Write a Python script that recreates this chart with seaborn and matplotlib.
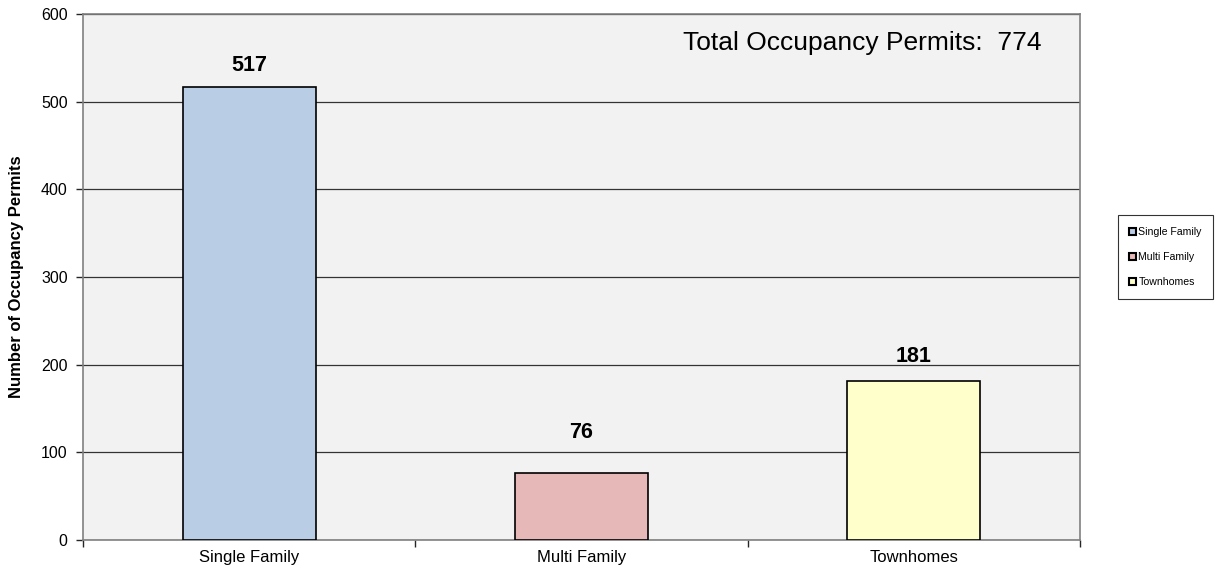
import matplotlib
matplotlib.use("Agg")
import matplotlib.pyplot as plt
import seaborn as sns
import pandas as pd
from matplotlib.patches import Patch

categories = ["Single Family", "Multi Family", "Townhomes"]
permits = [517, 76, 181]
colors = ["#B9CDE5", "#E6B9B8", "#FFFFCC"]
label_offsets = [24, 47, 28]
total_permits = 774

sns.set_style("white")
plt.rcParams["font.family"] = ["Liberation Sans", "DejaVu Sans"]
plt.rcParams["text.color"] = "black"

df = pd.DataFrame({"type": categories, "count": permits})

fig = plt.figure(figsize=(12.29, 5.69), dpi=100)
ax = fig.add_axes([0.0675, 0.051, 0.8113, 0.924])
ax.set_facecolor("#F2F2F2")

sns.barplot(data=df, x="type", y="count", hue="type", palette=colors,
            saturation=1, width=0.4, edgecolor="black", linewidth=1.2,
            legend=False, ax=ax, zorder=3)

ax.set_ylim(0, 600)
ax.set_xlim(-0.5, 2.5)
ax.set_yticks(range(0, 601, 100))
ax.yaxis.grid(True, color="#333333", linewidth=0.9, zorder=0)
ax.set_axisbelow(True)

for s in ax.spines.values():
    s.set_color("#808080")
    s.set_linewidth(1.2)

ax.tick_params(axis="y", labelsize=11.5, labelcolor="black", length=5,
               direction="out", width=1, left=True, pad=6)
ax.tick_params(axis="x", labelsize=12, labelcolor="black", bottom=False,
               pad=4)
ax.set_xticks([-0.5, 0.5, 1.5, 2.5], minor=True)
ax.tick_params(axis="x", which="minor", length=5, width=1, bottom=True)
ax.set_xlabel("")
ax.set_ylabel("Number of Occupancy Permits", fontsize=12, fontweight="bold",
              color="black", labelpad=12)

for i, (v, off) in enumerate(zip(permits, label_offsets)):
    ax.text(i, v + off, str(v), ha="center", va="center", fontsize=15.5,
            fontweight="bold", color="black")

ax.text(0.961, 0.945, f"Total Occupancy Permits:  {total_permits}",
        transform=ax.transAxes, ha="right", va="center", fontsize=19,
        color="black")

handles = [Patch(facecolor=c, edgecolor="black", linewidth=1.5, label=n)
           for n, c in zip(categories, colors)]
leg = fig.legend(handles=handles, loc="center left",
                 bbox_to_anchor=(0.9095, 0.548), fontsize=7.6, frameon=True,
                 fancybox=False, edgecolor="black", handlelength=0.6,
                 handleheight=0.6, handletextpad=0.25, labelspacing=1.45,
                 borderpad=1.1, borderaxespad=0)
leg.get_frame().set_linewidth(0.8)

fig.savefig("out.png", dpi=100)
